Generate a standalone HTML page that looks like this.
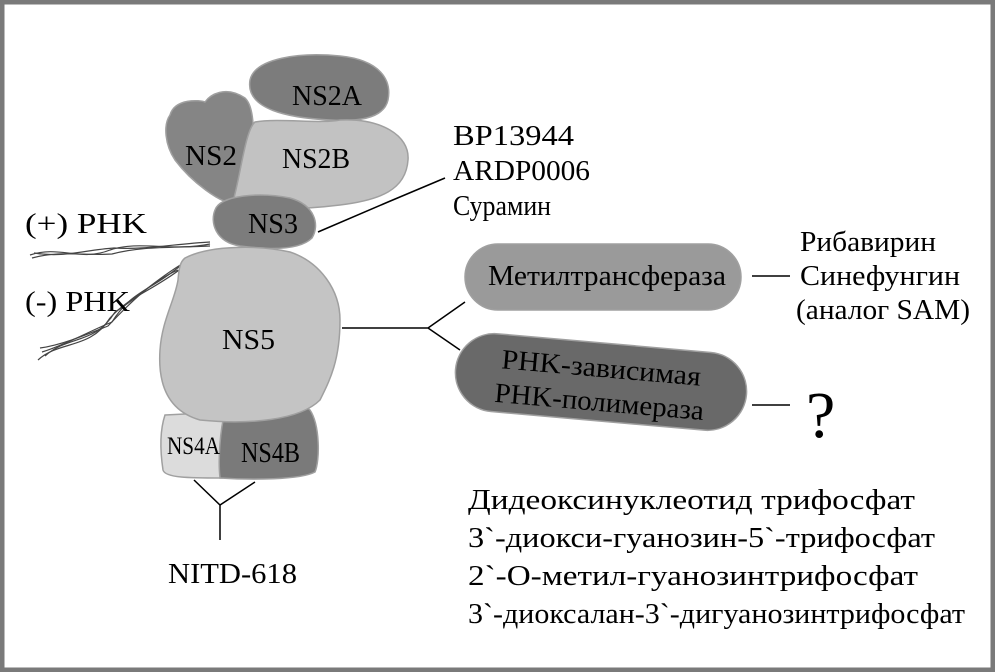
<!DOCTYPE html>
<html><head><meta charset="utf-8"><style>
html,body{margin:0;padding:0;background:#fff}
svg{display:block}
text{font-family:"Liberation Serif",serif;fill:#000}
</style></head><body>
<svg width="995" height="672" viewBox="0 0 995 672" xmlns="http://www.w3.org/2000/svg">
<rect x="0" y="0" width="995" height="672" fill="#fff"/>
<rect x="2" y="2" width="991" height="668" fill="none" stroke="#7a7a7a" stroke-width="5"/>
<g stroke="#444" stroke-width="1.2" fill="none">
<path d="M30 255 C60 245 80 262 110 250 C140 240 170 252 210 244"/>
<path d="M32 258 C62 250 82 256 112 254 C142 246 172 248 210 246"/>
<path d="M34 253 C64 258 84 250 114 248 C144 250 174 244 210 242"/>
<path d="M38 360 C60 340 90 350 110 318 C130 296 150 292 182 268"/>
<path d="M42 352 C65 345 92 330 112 322 C132 290 152 290 180 266"/>
<path d="M45 356 C68 335 95 345 115 312 C135 300 155 280 182 264"/>
<path d="M40 348 C62 345 88 334 108 326 C128 305 150 282 178 270"/>
</g>
<g stroke="#a0a0a0" stroke-width="1.5">
<path d="M250 80 C255 58 300 52 340 56 C380 60 392 80 388 100 C384 118 360 122 330 120 C290 118 245 110 250 80Z" fill="#7c7c7c"/>
<path d="M170 115 C175 98 200 100 205 102 C210 95 225 85 245 98 C258 110 255 160 240 205 C220 205 190 180 175 160 C165 145 163 125 170 115Z" fill="#858585"/>
<path d="M255 122 C280 118 320 124 340 120 C380 118 410 135 408 160 C406 190 380 200 340 205 C300 210 260 210 232 205 C240 180 245 130 255 122Z" fill="#c2c2c2"/>
<path d="M215 210 C220 195 260 192 290 198 C315 205 320 225 312 238 C300 250 270 250 240 246 C215 242 210 222 215 210Z" fill="#7c7c7c"/>
<path d="M165 415 L225 412 L222 478 C190 478 165 478 163 470 C160 450 160 430 165 415Z" fill="#dcdcdc"/>
<path d="M225 412 C260 405 300 400 310 410 C320 425 320 460 315 472 C300 480 250 480 220 478 C218 460 220 430 225 412Z" fill="#7a7a7a"/>
<path d="M185 258 C210 245 260 245 290 252 C320 262 340 290 340 320 C340 360 330 380 320 400 C300 420 250 425 200 420 C165 410 158 380 160 350 C162 320 175 300 178 280 C179 268 180 262 185 258Z" fill="#c4c4c4"/>
<rect x="465" y="244" width="276" height="66" rx="33" fill="#9a9a9a"/>
<rect x="455" y="343" width="292" height="78" rx="39" fill="#696969" transform="rotate(5 601 382)"/>
</g>
<g stroke="#000" stroke-width="1.5" fill="none">
<path d="M318 232 L388 202 L445 178"/>
<path d="M342 328 L428 328 L465 302 M428 328 L460 350"/>
<path d="M752 276 L790 276"/>
<path d="M752 405 L790 405"/>
<path d="M194 480 L220 505 L255 482 M220 505 L220 540"/>
</g>
<g font-size="28" lengthAdjust="spacingAndGlyphs">
<text x="292" y="105" textLength="70" lengthAdjust="spacingAndGlyphs">NS2A</text>
<text x="185" y="165" textLength="52" lengthAdjust="spacingAndGlyphs">NS2</text>
<text x="282" y="168" textLength="68" lengthAdjust="spacingAndGlyphs">NS2B</text>
<text x="248" y="233" textLength="50" lengthAdjust="spacingAndGlyphs">NS3</text>
<text x="222" y="349" textLength="53" lengthAdjust="spacingAndGlyphs">NS5</text>
<text x="167" y="454" font-size="25" textLength="53" lengthAdjust="spacingAndGlyphs">NS4A</text>
<text x="241" y="462" textLength="59" lengthAdjust="spacingAndGlyphs">NS4B</text>
<text x="25" y="233" textLength="122" lengthAdjust="spacingAndGlyphs">(+) PHK</text>
<text x="25" y="311" textLength="105" lengthAdjust="spacingAndGlyphs">(-) PHK</text>
<text x="453" y="145" textLength="121" lengthAdjust="spacingAndGlyphs">BP13944</text>
<text x="453" y="180" textLength="137" lengthAdjust="spacingAndGlyphs">ARDP0006</text>
<text x="453" y="215" textLength="98" lengthAdjust="spacingAndGlyphs">Сурамин</text>
<text x="488" y="285" textLength="238" lengthAdjust="spacingAndGlyphs">Метилтрансфераза</text>
<text x="800" y="251" textLength="136" lengthAdjust="spacingAndGlyphs">Рибавирин</text>
<text x="800" y="285" textLength="160" lengthAdjust="spacingAndGlyphs">Синефунгин</text>
<text x="796" y="319" textLength="174" lengthAdjust="spacingAndGlyphs">(аналог SAM)</text>
<g transform="rotate(5 601 382)"><text x="500" y="377" textLength="200" lengthAdjust="spacingAndGlyphs">PHK-зависимая</text><text x="496" y="411" textLength="210" lengthAdjust="spacingAndGlyphs">PHK-полимераза</text></g>
<text x="806" y="437" font-size="66">?</text>
<text x="168" y="583" textLength="129" lengthAdjust="spacingAndGlyphs">NITD-618</text>
<text x="468" y="509" textLength="447" lengthAdjust="spacingAndGlyphs">Дидеоксинуклеотид трифосфат</text>
<text x="468" y="547" textLength="467" lengthAdjust="spacingAndGlyphs">3`-диокси-гуанозин-5`-трифосфат</text>
<text x="468" y="585" textLength="450" lengthAdjust="spacingAndGlyphs">2`-О-метил-гуанозинтрифосфат</text>
<text x="468" y="623" textLength="497" lengthAdjust="spacingAndGlyphs">3`-диоксалан-3`-дигуанозинтрифосфат</text>
</g>
</svg>
</body></html>
